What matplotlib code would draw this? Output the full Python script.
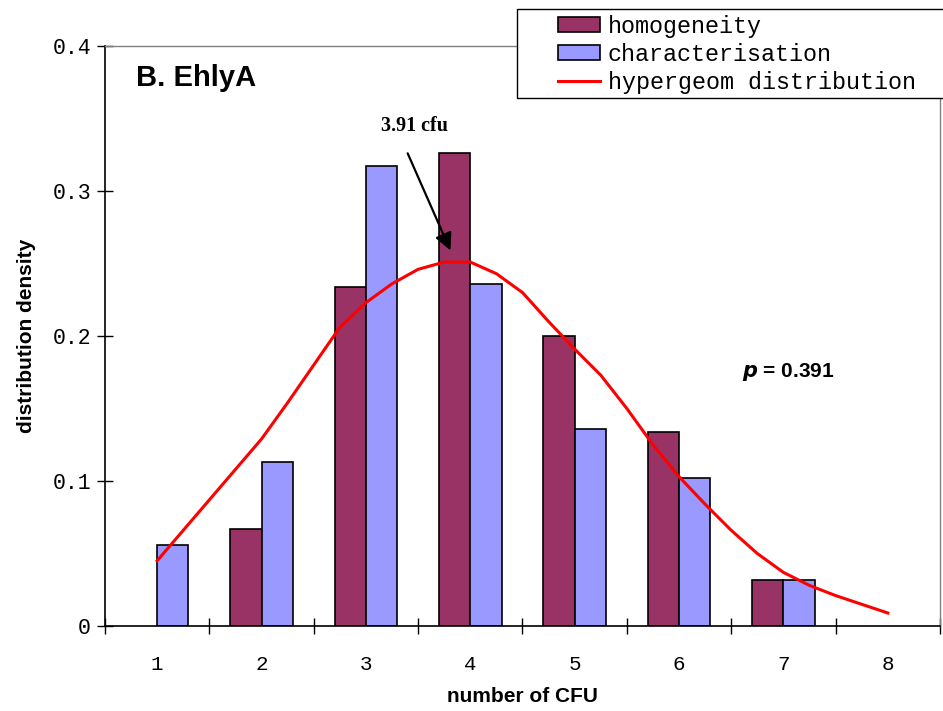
import numpy as np
import matplotlib
matplotlib.use('Agg')
from matplotlib import pyplot as plt
from matplotlib.patches import Rectangle, Patch

# data
cfu = [1, 2, 3, 4, 5, 6, 7, 8]
homogeneity = [0.0, 0.067, 0.234, 0.326, 0.200, 0.134, 0.032, 0.0]
characterisation = [0.056, 0.113, 0.317, 0.236, 0.136, 0.102, 0.032, 0.0]

# hypergeom curve, read every quarter step
hyp_x = [1.0, 1.25, 1.5, 1.75, 2.0, 2.25, 2.5, 2.75, 3.0, 3.25, 3.5, 3.75, 4.0,
         4.25, 4.5, 4.75, 5.0, 5.25, 5.5, 5.75, 6.0, 6.25, 6.5, 6.75, 7.0,
         7.25, 7.5, 7.75, 8.0]
hyp_y = [0.045, 0.066, 0.087, 0.108, 0.129, 0.154, 0.180, 0.206, 0.223, 0.236,
         0.246, 0.251, 0.251, 0.243, 0.230, 0.210, 0.191, 0.173, 0.150, 0.125,
         0.103, 0.084, 0.066, 0.050, 0.037, 0.028, 0.021, 0.015, 0.009]

y_ticks = [0, 0.1, 0.2, 0.3, 0.4]
y_ticklabels = ['0', '0.1', '0.2', '0.3', '0.4']

c_hom = '#993366'
c_char = '#9999FF'

fig = plt.figure(figsize=(9.43, 7.11), dpi=100)
ax = fig.add_axes([0.1113, 0.1195, 0.8855, 0.8158])

x = np.array(cfu)
w = 0.3
b1 = ax.bar(x - w / 2, homogeneity, w, color=c_hom, edgecolor='black',
            linewidth=1.2, zorder=2)
b2 = ax.bar(x + w / 2, characterisation, w, color=c_char, edgecolor='black',
            linewidth=1.2, zorder=2)
# empty classes: no outline drawn
for bars in (b1, b2):
    for p in bars:
        if p.get_height() == 0:
            p.set_visible(False)
ln, = ax.plot(hyp_x, hyp_y, color='red', linewidth=2.2,
              label='hypergeom distribution', zorder=3)

ax.set_xlim(0.5, 8.5)
ax.set_ylim(0, 0.4)

mono = 'Liberation Mono'
ax.set_xticks(np.arange(0.5, 9.0, 1.0))
ax.set_xticks(x, minor=True)
ax.set_xticklabels([])
ax.set_xticklabels([str(c) for c in cfu], minor=True, family=mono, fontsize=15)
ax.tick_params(axis='x', which='major', direction='inout', length=12, width=1)
ax.tick_params(axis='x', which='minor', length=0, pad=21)

ax.set_yticks(y_ticks)
ax.set_yticklabels(y_ticklabels, family=mono, fontsize=15.5)
ax.tick_params(axis='y', direction='inout', length=12, width=1, pad=4)

for s in ['left', 'bottom']:
    ax.spines[s].set_color('black')
    ax.spines[s].set_linewidth(1.2)
for s in ['top', 'right']:
    ax.spines[s].set_color('#808080')
    ax.spines[s].set_linewidth(1.0)

ax.set_xlabel('number of CFU', family='Liberation Sans', fontweight='bold',
              fontsize=15, labelpad=9)
ax.set_ylabel('distribution density', family='Liberation Sans',
              fontweight='bold', fontsize=15, labelpad=12)

ax.text(0.8, 0.378, 'B. EhlyA', family='Liberation Sans', fontweight='bold',
        fontsize=21, va='center', ha='left')
ax.text(7.05, 0.175, r'$\boldsymbol{p}$ = 0.391', family='Liberation Sans',
        fontweight='bold', fontsize=15, va='center', ha='center')

ax.text(3.47, 0.345, '3.91 cfu', family='Liberation Serif', fontweight='bold',
        fontsize=14.5, ha='center', va='center')
ax.annotate('', xy=(3.81, 0.259), xytext=(3.40, 0.326),
            arrowprops=dict(arrowstyle='-|>', color='black', lw=1.6,
                            mutation_scale=26, shrinkA=0, shrinkB=0))

# legend box, runs off the right edge like the original
fig.patches.append(Rectangle((517 / 943, 1 - 98 / 711), 0.5, 89 / 711,
                             transform=fig.transFigure, facecolor='white',
                             edgecolor='black', linewidth=1.0, zorder=4))
handles = [Patch(facecolor=c_hom, edgecolor='black', linewidth=1.2, label='homogeneity'),
           Patch(facecolor=c_char, edgecolor='black', linewidth=1.2, label='characterisation'),
           ln]
leg = fig.legend(handles=handles, loc='upper left',
                 bbox_to_anchor=(558 / 943, 0.979), prop={'family': mono, 'size': 16.8},
                 frameon=False, handlelength=1.8, handleheight=0.6,
                 handletextpad=0.34, labelspacing=0.22, borderpad=0,
                 borderaxespad=0)
leg.set_zorder(5)

fig.savefig('out.png', dpi=100)
